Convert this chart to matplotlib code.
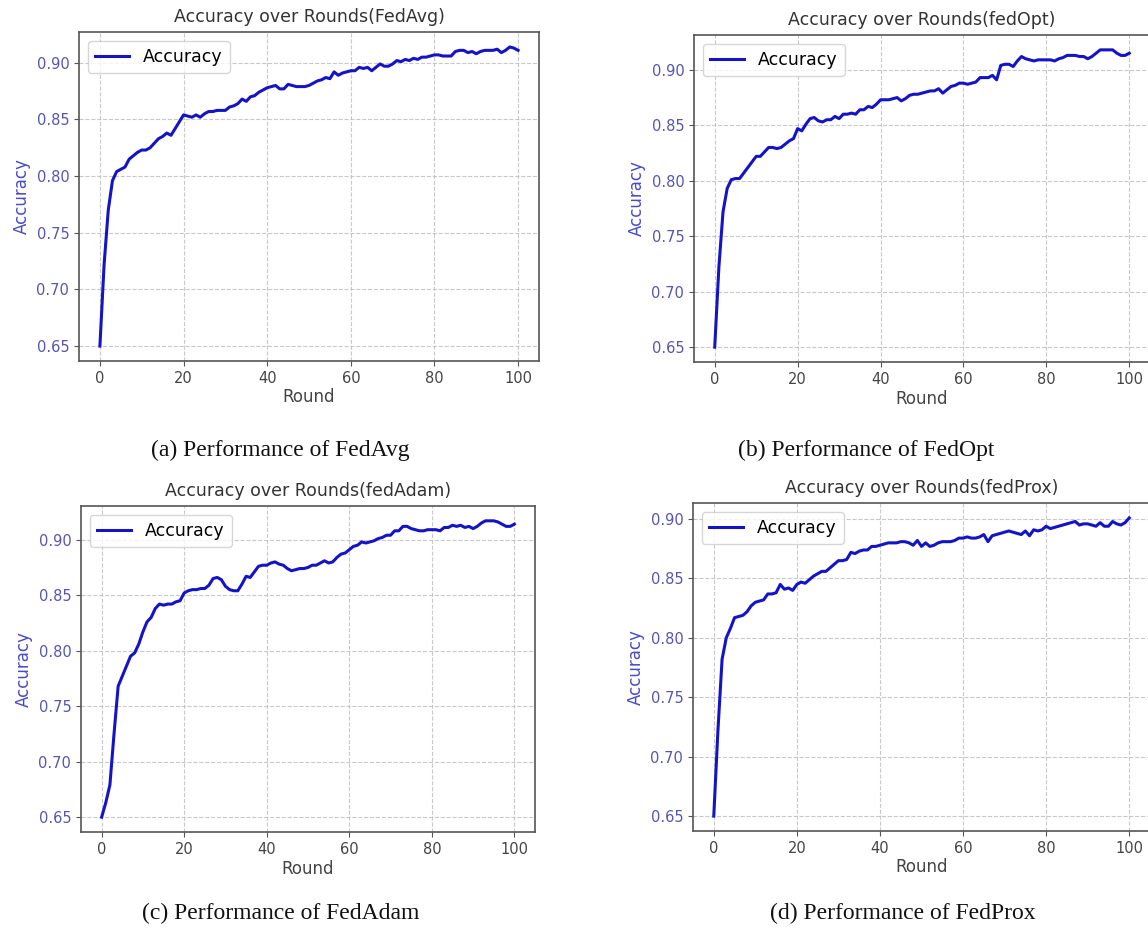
import matplotlib
matplotlib.use("Agg")
import matplotlib.pyplot as plt

ROUNDS = list(range(101))

FEDAVG = [
    0.650, 0.722, 0.770, 0.796, 0.804, 0.806, 0.808, 0.815, 0.818, 0.821,
    0.823, 0.823, 0.825, 0.829, 0.833, 0.835, 0.838, 0.836, 0.842, 0.848,
    0.854, 0.853, 0.852, 0.854, 0.852, 0.855, 0.857, 0.857, 0.858, 0.858,
    0.858, 0.861, 0.862, 0.864, 0.868, 0.866, 0.870, 0.871, 0.874, 0.876,
    0.878, 0.879, 0.880, 0.877, 0.877, 0.881, 0.880, 0.879, 0.879, 0.879,
    0.880, 0.882, 0.884, 0.885, 0.887, 0.886, 0.892, 0.889, 0.891, 0.892,
    0.893, 0.893, 0.896, 0.895, 0.896, 0.893, 0.896, 0.899, 0.897, 0.897,
    0.899, 0.902, 0.901, 0.903, 0.902, 0.904, 0.903, 0.905, 0.905, 0.906,
    0.907, 0.907, 0.906, 0.906, 0.906, 0.910, 0.911, 0.911, 0.909, 0.910,
    0.908, 0.910, 0.911, 0.911, 0.911, 0.912, 0.909, 0.911, 0.914, 0.913,
    0.911,
]

FEDOPT = [
    0.650, 0.722, 0.772, 0.793, 0.801, 0.802, 0.802, 0.807, 0.812, 0.817,
    0.822, 0.822, 0.826, 0.830, 0.830, 0.829, 0.830, 0.833, 0.836, 0.838,
    0.847, 0.845, 0.851, 0.856, 0.857, 0.854, 0.853, 0.855, 0.855, 0.858,
    0.856, 0.860, 0.860, 0.861, 0.860, 0.864, 0.864, 0.867, 0.866, 0.869,
    0.873, 0.873, 0.873, 0.874, 0.875, 0.872, 0.874, 0.877, 0.878, 0.878,
    0.879, 0.880, 0.881, 0.881, 0.883, 0.879, 0.882, 0.885, 0.886, 0.888,
    0.888, 0.887, 0.888, 0.889, 0.893, 0.893, 0.893, 0.895, 0.891, 0.904,
    0.905, 0.905, 0.903, 0.908, 0.912, 0.910, 0.909, 0.908, 0.909, 0.909,
    0.909, 0.909, 0.908, 0.910, 0.911, 0.913, 0.913, 0.913, 0.912, 0.912,
    0.910, 0.912, 0.915, 0.918, 0.918, 0.918, 0.918, 0.915, 0.913, 0.913,
    0.915,
]

FEDADAM = [
    0.650, 0.663, 0.679, 0.725, 0.768, 0.777, 0.786, 0.795, 0.798, 0.806,
    0.817, 0.826, 0.830, 0.838, 0.842, 0.841, 0.842, 0.842, 0.844, 0.845,
    0.852, 0.854, 0.855, 0.855, 0.856, 0.856, 0.859, 0.865, 0.866, 0.864,
    0.858, 0.855, 0.854, 0.854, 0.860, 0.867, 0.866, 0.871, 0.876, 0.877,
    0.877, 0.879, 0.880, 0.878, 0.877, 0.874, 0.872, 0.873, 0.874, 0.874,
    0.875, 0.877, 0.877, 0.879, 0.881, 0.879, 0.880, 0.884, 0.887, 0.888,
    0.891, 0.894, 0.895, 0.898, 0.897, 0.898, 0.899, 0.901, 0.902, 0.904,
    0.904, 0.908, 0.908, 0.912, 0.912, 0.910, 0.909, 0.908, 0.908, 0.909,
    0.909, 0.909, 0.908, 0.911, 0.911, 0.913, 0.912, 0.913, 0.911, 0.912,
    0.910, 0.912, 0.915, 0.917, 0.917, 0.917, 0.916, 0.914, 0.912, 0.912,
    0.914,
]

FEDPROX = [
    0.650, 0.722, 0.782, 0.800, 0.808, 0.817, 0.818, 0.819, 0.822, 0.827,
    0.830, 0.831, 0.832, 0.837, 0.837, 0.838, 0.845, 0.841, 0.842, 0.840,
    0.845, 0.847, 0.846, 0.849, 0.852, 0.854, 0.856, 0.856, 0.859, 0.862,
    0.865, 0.865, 0.866, 0.872, 0.871, 0.873, 0.874, 0.874, 0.877, 0.877,
    0.878, 0.879, 0.880, 0.880, 0.880, 0.881, 0.881, 0.880, 0.878, 0.882,
    0.877, 0.880, 0.877, 0.878, 0.880, 0.881, 0.881, 0.881, 0.882, 0.884,
    0.884, 0.885, 0.884, 0.884, 0.885, 0.887, 0.881, 0.886, 0.887, 0.888,
    0.889, 0.890, 0.889, 0.888, 0.887, 0.890, 0.886, 0.891, 0.890, 0.891,
    0.894, 0.892, 0.893, 0.894, 0.895, 0.896, 0.897, 0.898, 0.895, 0.896,
    0.896, 0.895, 0.894, 0.897, 0.894, 0.894, 0.898, 0.896, 0.895, 0.897,
    0.901,
]

TITLES = [
    "Accuracy over Rounds(FedAvg)",
    "Accuracy over Rounds(fedOpt)",
    "Accuracy over Rounds(fedAdam)",
    "Accuracy over Rounds(fedProx)",
]
CAPTIONS = [
    "(a) Performance of FedAvg",
    "(b) Performance of FedOpt",
    "(c) Performance of FedAdam",
    "(d) Performance of FedProx",
]
SERIES = [FEDAVG, FEDOPT, FEDADAM, FEDPROX]

W, H = 1148, 938

# axes boxes in pixels: left, top, right, bottom
BOXES = [
    (79, 32, 539, 361),
    (694, 35, 1150, 362),
    (81, 506, 535, 832),
    (693, 503, 1150, 831),
]
CAPTION_POS = [(280, 450), (866, 450), (281, 913), (903, 913)]

LINE_COLOR = "#1414c4"
TICK_BLUE = "#5656b0"
LABEL_BLUE = "#4a4ac4"
GRAY = "#444444"


def main():
    fig = plt.figure(figsize=(W / 100, H / 100), dpi=100)

    for i, (vals, title) in enumerate(zip(SERIES, TITLES)):
        l, t, r, b = BOXES[i]
        ax = fig.add_axes([l / W, 1 - b / H, (r - l) / W, (b - t) / H])
        ax.plot(ROUNDS, vals, color=LINE_COLOR, linewidth=2.2, label="Accuracy")

        ax.set_title(title, fontsize=12.5, color="#333333", pad=7)
        ax.set_xlabel("Round", fontsize=12, color=GRAY, labelpad=2)
        ax.set_ylabel("Accuracy", fontsize=12, color=LABEL_BLUE, labelpad=4)
        ax.set_xticks([0, 20, 40, 60, 80, 100])
        ax.tick_params(axis="x", labelsize=10.5, labelcolor=GRAY, color="#555555")
        ax.tick_params(axis="y", labelsize=10.5, labelcolor=TICK_BLUE, color="#555555")
        ax.yaxis.set_major_formatter(plt.FormatStrFormatter("%.2f"))
        ax.grid(True, linestyle="--", color="#bbbbbb", linewidth=0.8, alpha=0.8)
        for sp in ax.spines.values():
            sp.set_color("#555555")
            sp.set_linewidth(1.2)
        leg = ax.legend(loc="upper left", fontsize=12.5, handlelength=2.0)
        leg.get_frame().set_edgecolor("#cccccc")

        cx, cy = CAPTION_POS[i]
        fig.text(cx / W, 1 - cy / H, CAPTIONS[i], ha="center", va="center",
                 fontsize=17, family="Liberation Serif", color="#111111")

    fig.savefig("out.png", dpi=100)


if __name__ == "__main__":
    main()
